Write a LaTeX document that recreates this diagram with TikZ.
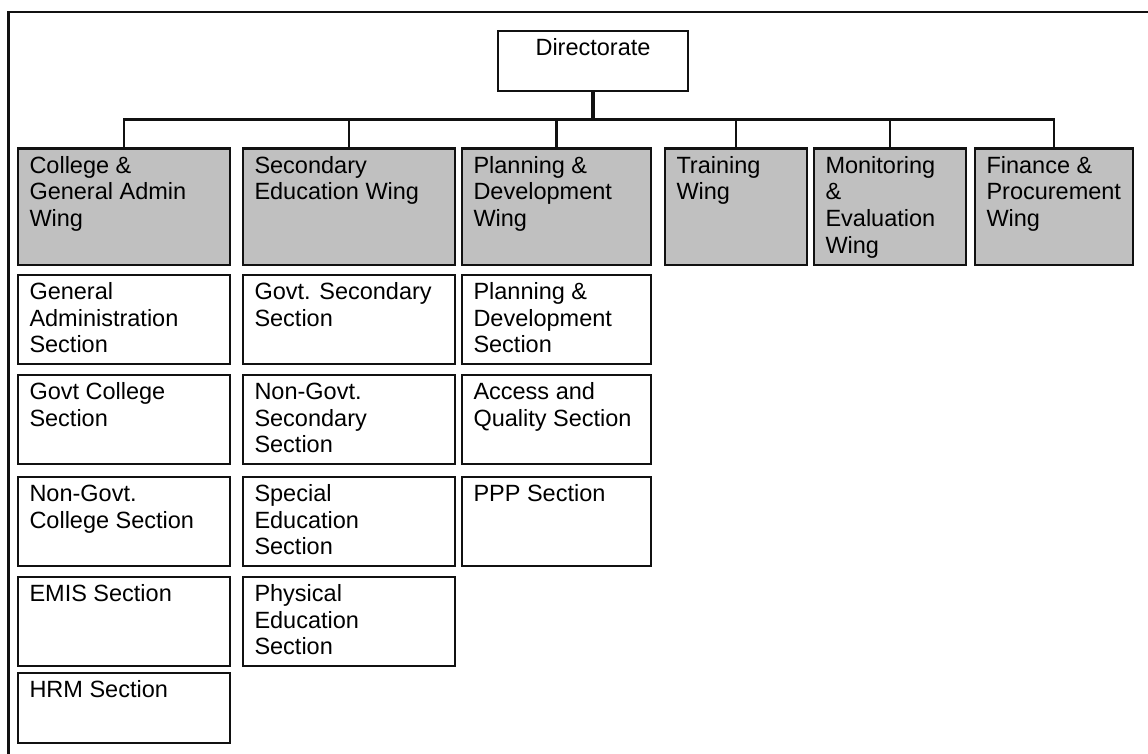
\documentclass[tikz,border=0pt]{standalone}
\usepackage{fontspec}
\usetikzlibrary{calc}
\setmainfont{Liberation Sans}
\hfuzz=30pt
\definecolor{wingfill}{HTML}{C0C0C0}
\definecolor{edge}{HTML}{111111}
% text block of a box: width, height, alignment, text
\newcommand\boxtext[4]{\parbox[t][#2pt][t]{#1pt}{\fontsize{23.5}{26.7}\selectfont
  #3\rule{0pt}{24.5pt}#4}}
\newcommand\lefttext{\leftskip=11.5pt\rightskip=0pt plus 1fil\parindent=0pt }
\newcommand\midtext{\centering}
\begin{document}
\begin{tikzpicture}[x=1pt,y=-1pt,
  unit/.style={draw=edge, line width=2.2pt, inner sep=0pt, outer sep=0pt, anchor=north west, fill=white},
  wing/.style={unit, fill=wingfill},
  link/.style={draw=edge, line width=2.2pt},
  trunk/.style={draw=edge, line width=3.2pt}]
\useasboundingbox (0,0) rectangle (1148,753);
% page frame, running off the right and bottom edges
\begin{scope}
  \clip (0,0) rectangle (1148,753);
  \draw[edge, line width=2.2pt] (8.5,12) rectangle (1170,780);
\end{scope}

% head of the chart
\node[unit] (dir) at (498,31) {\boxtext{190}{60}{\midtext}{Directorate}};

% wings
\node[wing] (w1) at (18,148.5)  {\boxtext{212}{116.5}{\lefttext}{College \&\\General Admin\\Wing}};
\node[wing] (w2) at (243,148.5) {\boxtext{212}{116.5}{\lefttext}{Secondary\\Education Wing}};
\node[wing] (w3) at (462,148.5) {\boxtext{189}{116.5}{\lefttext}{Planning \&\\Development\\Wing}};
\node[wing] (w4) at (665,148.5) {\boxtext{142}{116.5}{\lefttext}{Training\\Wing}};
\node[wing] (w5) at (814,148.5) {\boxtext{152}{116.5}{\lefttext}{Monitoring\\\&\\Evaluation\\Wing}};
\node[wing] (w6) at (975,148.5) {\boxtext{158}{116.5}{\lefttext}{Finance \&\\Procurement\\Wing}};

% sections of the College & General Admin Wing
\node[unit] (s11) at (18,275) {\boxtext{212}{89}{\lefttext}{General\\Administration\\Section}};
\node[unit] (s12) at (18,375) {\boxtext{212}{89}{\lefttext}{Govt College\\Section}};
\node[unit] (s13) at (18,477) {\boxtext{212}{89}{\lefttext}{Non-Govt.\\College Section}};
\node[unit] (s14) at (18,577) {\boxtext{212}{89}{\lefttext}{EMIS Section}};
\node[unit] (s15) at (18,673) {\boxtext{212}{70}{\lefttext}{HRM Section}};

% sections of the Secondary Education Wing
\node[unit] (s21) at (243,275) {\boxtext{212}{89}{\lefttext}{Govt. Secondary\\Section}};
\node[unit] (s22) at (243,375) {\boxtext{212}{89}{\lefttext}{Non-Govt.\\Secondary\\Section}};
\node[unit] (s23) at (243,477) {\boxtext{212}{89}{\lefttext}{Special\\Education\\Section}};
\node[unit] (s24) at (243,577) {\boxtext{212}{89}{\lefttext}{Physical\\Education\\Section}};

% sections of the Planning & Development Wing
\node[unit] (s31) at (462,275) {\boxtext{189}{89}{\lefttext}{Planning \&\\Development\\Section}};
\node[unit] (s32) at (462,375) {\boxtext{189}{89}{\lefttext}{Access and\\Quality Section}};
\node[unit] (s33) at (462,477) {\boxtext{189}{89}{\lefttext}{PPP Section}};

% connectors
\coordinate (hub) at ($(dir.south)+(0,28.5)$);
\foreach \w in {w1,w2,w3,w4,w5,w6}
  \draw[link] (hub) -| (\w.north);
\draw[trunk] (dir.south) -- (hub);
\end{tikzpicture}
\end{document}
